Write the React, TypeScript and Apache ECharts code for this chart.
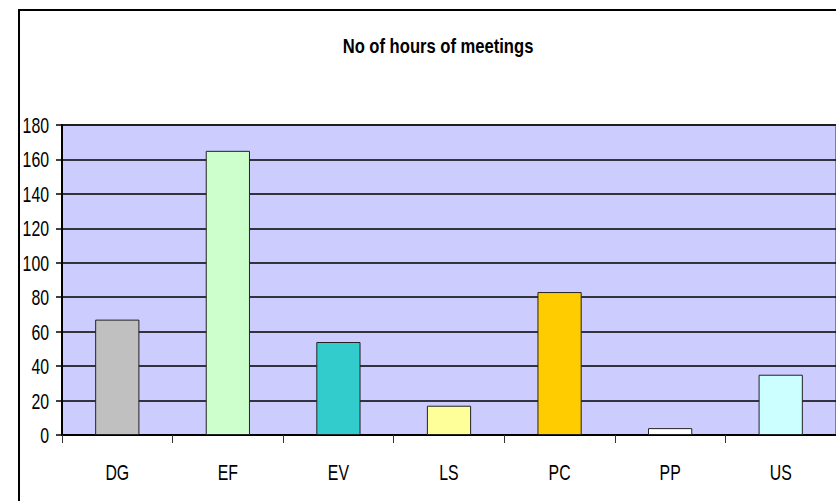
import React, { useEffect, useRef } from "react";
import * as echarts from "echarts";

const categories = ["DG", "EF", "EV", "LS", "PC", "PP", "US"];
const hours = [67, 165, 54, 17, 83, 4, 35];
const yTicks = [0, 20, 40, 60, 80, 100, 120, 140, 160, 180];
const barColors = ["#C0C0C0", "#CCFFCC", "#33CCCC", "#FFFF99", "#FFCC00", "#FFFFFF", "#CCFFFF"];
const titleText = "No of hours of meetings";

const FONT = "'Liberation Sans', Arial, sans-serif";
const NARROW = 0.72;

export default function App() {
  const ref = useRef<HTMLDivElement>(null);
  useEffect(() => {
    if (!ref.current) return;
    const chart = echarts.init(ref.current, undefined, { renderer: "svg" });
    chart.setOption({
      animation: false,
      backgroundColor: "#FFFFFF",
      grid: {
        left: 62,
        top: 125,
        right: -8,
        bottom: 66,
        show: true,
        backgroundColor: "#CCCCFF",
        borderColor: "#808080",
        borderWidth: 2,
      },
      xAxis: {
        type: "category",
        data: categories,
        boundaryGap: true,
        axisLine: { show: true, lineStyle: { color: "#000000", width: 2 } },
        axisTick: { show: true, length: 8, lineStyle: { color: "#333333", width: 1 } },
        axisLabel: { show: false },
        splitLine: { show: false },
      },
      yAxis: {
        type: "value",
        min: 0,
        max: 180,
        interval: 20,
        axisLine: { show: true, lineStyle: { color: "#000000", width: 2 } },
        axisTick: { show: true, length: 6, lineStyle: { color: "#000000", width: 1.5 } },
        axisLabel: { show: false },
        splitLine: { show: true, lineStyle: { color: "#000000", width: 1.5 } },
      },
      series: [
        {
          type: "bar",
          data: hours.map((v, i) => ({
            value: v,
            itemStyle: { color: barColors[i] },
          })),
          barCategoryGap: "60%",
          itemStyle: { borderColor: "#222222", borderWidth: 1 },
        },
      ],
    });

    const gridLeftX = 62;
    const zeroY = chart.convertToPixel({ yAxisIndex: 0 }, 0) as number;

    const yLabels = yTicks.map((t) => ({
      type: "text",
      x: gridLeftX - 13,
      y: (chart.convertToPixel({ yAxisIndex: 0 }, t) as number) + 0.5,
      scaleX: NARROW,
      style: {
        text: String(t),
        fill: "#000000",
        font: `22px ${FONT}`,
        textAlign: "right",
        textVerticalAlign: "middle",
      },
    }));

    const xLabels = categories.map((c) => ({
      type: "text",
      x: chart.convertToPixel({ xAxisIndex: 0 }, c) as number,
      y: zeroY + 38,
      scaleX: NARROW,
      style: {
        text: c,
        fill: "#000000",
        font: `22px ${FONT}`,
        textAlign: "center",
        textVerticalAlign: "middle",
      },
    }));

    chart.setOption({
      graphic: [
        {
          type: "rect",
          shape: { x: 19, y: 10, width: 900, height: 600 },
          style: { fill: "none", stroke: "#000000", lineWidth: 2 },
          z: 100,
        },
        {
          type: "text",
          x: 438,
          y: 46,
          scaleX: 0.83,
          style: {
            text: titleText,
            fill: "#000000",
            font: `bold 20px ${FONT}`,
            textAlign: "center",
            textVerticalAlign: "middle",
          },
        },
        ...yLabels,
        ...xLabels,
      ],
    });
    return () => chart.dispose();
  }, []);
  return (
    <div
      ref={ref}
      style={{ position: "fixed", left: 0, top: 0, width: 836, height: 501 }}
    />
  );
}
